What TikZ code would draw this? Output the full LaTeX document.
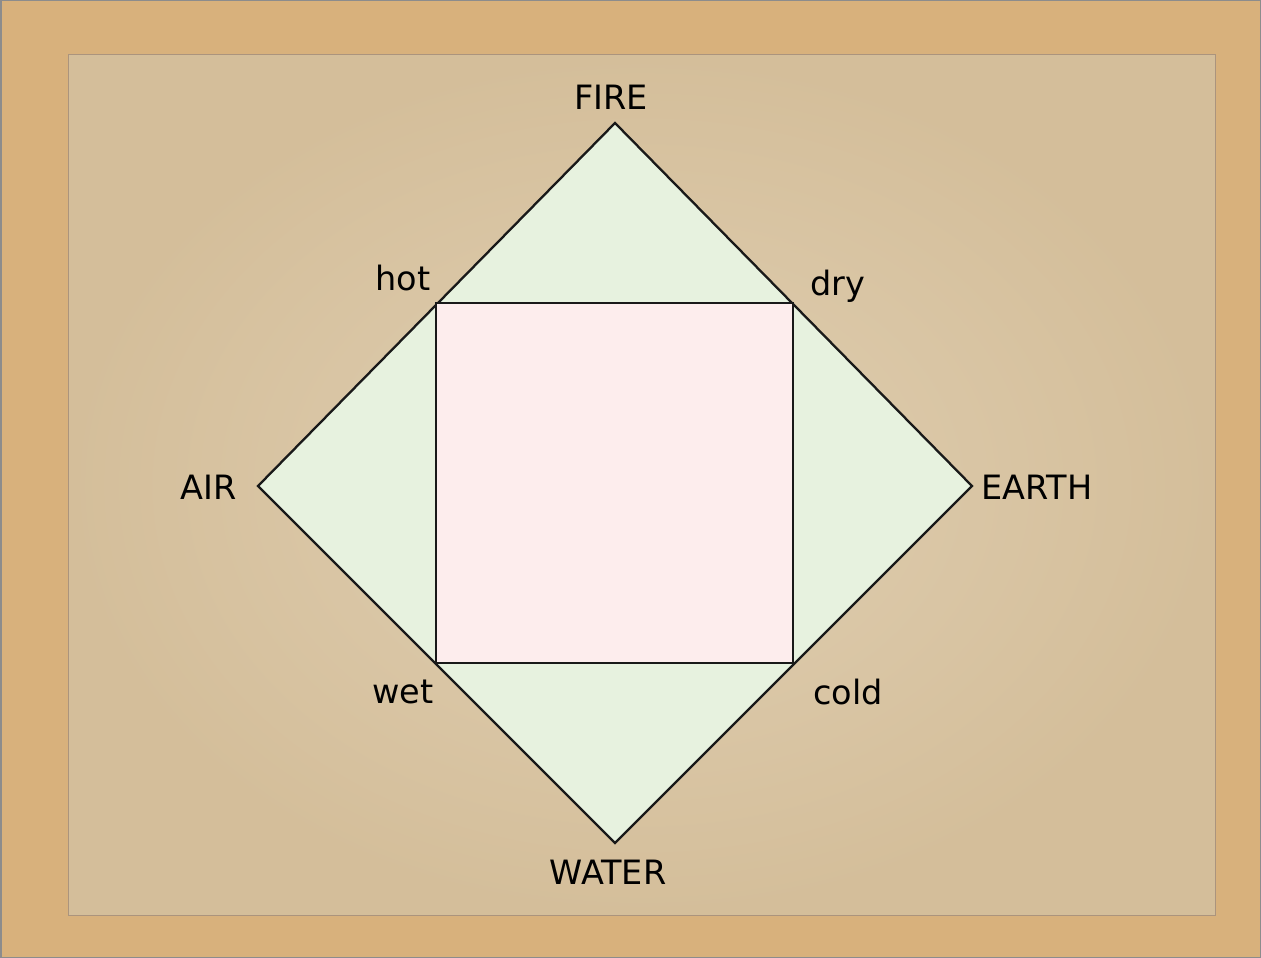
\documentclass[tikz,border=0pt]{standalone}
\usepackage{fontspec}
\setmainfont{DejaVu Sans}
\begin{document}
\begin{tikzpicture}[x=1pt,y=-1pt,
  lbl/.style={font=\fontsize{33.5}{38}\selectfont, text=black, anchor=base, inner sep=0pt},
  outline/.style={draw=black!90, line width=2.3pt, line join=miter}]
\definecolor{cork}{HTML}{D8B17C}
\definecolor{paper}{HTML}{D4BE9A}
\definecolor{paperlight}{HTML}{E0CFB2}
\definecolor{greenfill}{HTML}{E7F2DF}
\definecolor{pinkfill}{HTML}{FDEDED}
\useasboundingbox (0,0) rectangle (1261,958);
% background cork board
\fill[cork] (0,0) rectangle (1261,958);
\draw[black!45, line width=1.5pt] (0.75,0.75) rectangle (1260.25,957.25);
% paper sheet
\draw[draw=brown!60!black!60, line width=1pt, inner color=paperlight, outer color=paper]
  (68,55) rectangle (1215,915);
% vertices
\coordinate (top) at (615,123);
\coordinate (left) at (258,486);
\coordinate (right) at (972,486);
\coordinate (bottom) at (615,843);
\coordinate (sqtl) at (436,303);
\coordinate (sqtr) at (793,303);
\coordinate (sqbr) at (793,663);
\coordinate (sqbl) at (436,663);
% diamond and square
\draw[outline, fill=greenfill] (top) -- (right) -- (bottom) -- (left) -- cycle;
\draw[outline, fill=pinkfill] (sqtl) -- (sqtr) -- (sqbr) -- (sqbl) -- cycle;
% labels
\node[lbl] (fire) at (611,110) {FIRE};
\node[lbl] (water) at (608,884) {WATER};
\node[lbl] (air) at (209,499) {AIR};
\node[lbl] (earth) at (1037,499) {EARTH};
\node[lbl] (hot) at (403,290) {hot};
\node[lbl] (dry) at (838,295) {dry};
\node[lbl] (wet) at (403,703) {wet};
\node[lbl] (cold) at (848,704) {cold};
\end{tikzpicture}
\end{document}
